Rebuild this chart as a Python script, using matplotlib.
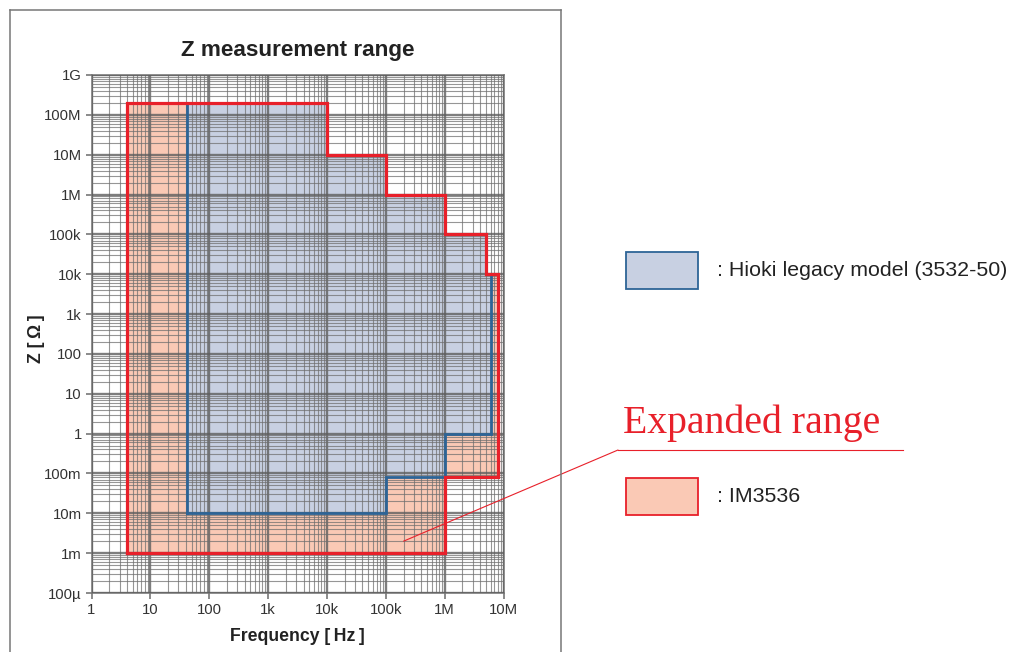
# Z measurement range chart: IM3536 vs Hioki legacy model (3532-50)

import matplotlib
matplotlib.use("Agg")
import matplotlib.pyplot as plt
from matplotlib.patches import Rectangle
from matplotlib.lines import Line2D

plt.rcParams['font.family'] = ['Liberation Sans', 'DejaVu Sans']

# IM3536 range outline (frequency Hz, impedance ohm)
im_freq = [4, 4, 10e3, 10e3, 100e3, 100e3, 1e6, 1e6, 5e6, 5e6, 8e6, 8e6, 1e6, 1e6, 4]
im_z = [1e-3, 200e6, 200e6, 10e6, 10e6, 1e6, 1e6, 100e3, 100e3, 10e3, 10e3, 80e-3, 80e-3, 1e-3, 1e-3]

# legacy model 3532-50 range outline
old_freq = [42, 42, 10e3, 10e3, 100e3, 100e3, 1e6, 1e6, 5e6, 5e6, 6e6, 6e6, 1e6, 1e6, 100e3, 100e3, 42]
old_z = [10e-3, 200e6, 200e6, 10e6, 10e6, 1e6, 1e6, 100e3, 100e3, 10e3, 10e3, 1, 1, 80e-3, 80e-3, 10e-3, 10e-3]

x_ticks = [1, 10, 100, 1e3, 1e4, 1e5, 1e6, 1e7]
x_labels = ['1', '10', '100', '1k', '10k', '100k', '1M', '10M']
y_ticks = [1e-4, 1e-3, 1e-2, 1e-1, 1, 10, 100, 1e3, 1e4, 1e5, 1e6, 1e7, 1e8, 1e9]
y_labels = ['100\u00b5', '1m', '10m', '100m', '1', '10', '100', '1k', '10k', '100k', '1M', '10M', '100M', '1G']

red = '#e8202a'
blue = '#2d6496'
peach = '#fac9b5'
lilac = '#c8d0e2'

W, H = 1015, 652
fig = plt.figure(figsize=(W / 100, H / 100), dpi=100)
ax = fig.add_axes([91.5 / W, 1 - 593 / H, (503.6 - 91.5) / W, (593 - 75) / H])

ax.fill(im_freq, im_z, color=peach, lw=0, zorder=1)
ax.fill(old_freq, old_z, color=lilac, lw=0, zorder=1.5)

ax.set_xscale('log')
ax.set_yscale('log')
ax.set_xlim(1, 1e7)
ax.set_ylim(1e-4, 1e9)
ax.set_xticks(x_ticks)
ax.set_xticklabels(x_labels)
ax.set_yticks(y_ticks)
ax.set_yticklabels(y_labels)
ax.minorticks_on()
ax.xaxis.set_minor_locator(matplotlib.ticker.LogLocator(base=10, subs=range(2, 10), numticks=20))
ax.yaxis.set_minor_locator(matplotlib.ticker.LogLocator(base=10, subs=range(2, 10), numticks=30))
ax.set_axisbelow(False)
ax.grid(which='major', color='#5e5e5e', alpha=0.8, lw=1.7, zorder=2)
ax.grid(which='minor', color='#6e6e6e', alpha=0.72, lw=0.8, zorder=2)
for g in ax.get_xgridlines() + ax.get_ygridlines():
    g.set_zorder(2)
ax.tick_params(which='major', direction='out', length=4, width=1.2, color='#777777',
               labelsize=10.7, labelcolor='#333333', pad=3)
ax.tick_params(which='minor', length=0)
for s in ax.spines.values():
    s.set_color('#7a7a7a')
    s.set_linewidth(1.2)

ax.plot(old_freq, old_z, color=blue, lw=2.0, zorder=4, solid_joinstyle='miter')
ax.plot(im_freq, im_z, color=red, lw=2.3, zorder=5, solid_joinstyle='miter')

ax.set_title('Z measurement range', fontsize=16.2, fontweight='bold', color='#222222', pad=14)
ax.set_xlabel('Frequency [\u2009Hz\u2009]', fontsize=12.7, fontweight='bold', color='#222222', labelpad=8)
ax.set_ylabel('Z [\u2009\u03a9\u2009]', fontsize=12.7, fontweight='bold', color='#222222')
ax.yaxis.set_label_coords(-0.114, 0.49)

# outer frame (bottom edge runs off the picture)
fx = lambda px: px / W
fy = lambda py: 1 - py / H
for xs, ys in [([10, 10], [10, 660]), ([10, 561], [10, 10]), ([561, 561], [10, 660])]:
    fig.add_artist(Line2D([fx(v) for v in xs], [fy(v) for v in ys], color='#777777', lw=1.1))

# pointer to the expanded region
ax.annotate('', xy=(2e5, 2e-3), xycoords='data',
            xytext=(fx(618), fy(450)), textcoords='figure fraction',
            arrowprops=dict(arrowstyle='-', color=red, lw=0.8, shrinkA=0, shrinkB=0),
            annotation_clip=False, zorder=6)
fig.add_artist(Line2D([fx(618), fx(903)], [fy(450), fy(450)], color=red, lw=0.8))
fig.text(fx(623), fy(433), 'Expanded range', family=['Liberation Serif', 'DejaVu Serif'],
         fontsize=28.6, color=red, va='baseline', ha='left')

# legend
fig.add_artist(Rectangle((fx(626), fy(289)), 72 / W, 37 / H, transform=fig.transFigure,
                         facecolor=lilac, edgecolor=blue, lw=1.3))
fig.add_artist(Rectangle((fx(626), fy(515)), 72 / W, 37 / H, transform=fig.transFigure,
                         facecolor=peach, edgecolor=red, lw=1.3))
fig.text(fx(717), fy(271), ': Hioki legacy model (3532-50)', fontsize=15.4, color='#222222',
         va='center', ha='left')
fig.text(fx(717), fy(497), ': IM3536', fontsize=15.4, color='#222222', va='center', ha='left')

fig.savefig('out.png', dpi=100)
